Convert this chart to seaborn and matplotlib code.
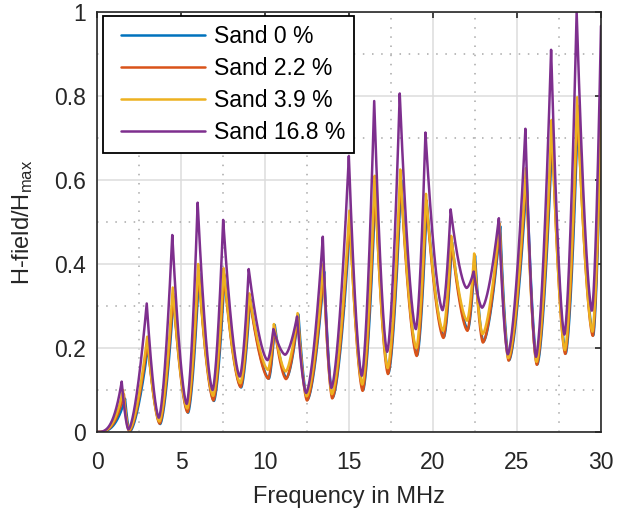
import numpy as np
import pandas as pd
import seaborn as sns
import matplotlib.pyplot as plt
from matplotlib.ticker import MultipleLocator, FuncFormatter
from matplotlib.legend_handler import HandlerLine2D

# ---------------- values ----------------
labels = ["Sand 0 %", "Sand 2.2 %", "Sand 3.9 %", "Sand 16.8 %"]
colors = ["#0072BD", "#D95319", "#EDB120", "#7E2F8E"]

# resonance peak positions (MHz)
peak_f_blue = [1.67, 3.04, 4.56, 6.07, 7.59, 9.11, 10.58, 11.99, 13.52, 15.07,
               16.58, 18.10, 19.63, 21.13, 22.50, 24.00, 25.58, 27.11, 28.63, 30.0]
peak_f_orange = [1.60, 3.01, 4.53, 6.04, 7.56, 9.08, 10.55, 11.96, 13.49, 15.04,
                 16.55, 18.07, 19.60, 21.10, 22.47, 23.97, 25.55, 27.08, 28.60, 30.0]
peak_f_yellow = [1.55, 2.99, 4.51, 6.02, 7.54, 9.06, 10.53, 11.94, 13.47, 15.02,
                 16.53, 18.05, 19.58, 21.08, 22.45, 23.95, 25.53, 27.06, 28.58, 30.0]
peak_f_purple = [1.47, 2.96, 4.48, 5.99, 7.51, 9.03, 10.50, 11.91, 13.44, 14.99,
                 16.50, 18.02, 19.55, 21.05, 22.42, 23.92, 25.50, 27.03, 28.55, 30.0]

# peak heights (H/Hmax)
peak_h_blue = [0.079, 0.205, 0.322, 0.378, 0.372, 0.317, 0.255, 0.280, 0.382, 0.505,
               0.585, 0.600, 0.547, 0.452, 0.420, 0.490, 0.605, 0.716, 0.768, 0.740]
peak_h_orange = [0.090, 0.215, 0.330, 0.385, 0.377, 0.320, 0.252, 0.279, 0.386, 0.512,
                 0.592, 0.607, 0.552, 0.456, 0.422, 0.492, 0.612, 0.724, 0.777, 0.748]
peak_h_yellow = [0.100, 0.227, 0.344, 0.400, 0.390, 0.330, 0.257, 0.283, 0.400, 0.527,
                 0.610, 0.625, 0.567, 0.467, 0.425, 0.497, 0.628, 0.743, 0.797, 0.767]
peak_h_purple = [0.120, 0.306, 0.469, 0.546, 0.505, 0.388, 0.245, 0.275, 0.465, 0.657,
                 0.788, 0.806, 0.713, 0.530, 0.382, 0.509, 0.722, 0.910, 1.000, 0.967]

# minima between the peaks (first one is the start at 0 MHz)
trough_f = [0.0, 1.87, 3.68, 5.34, 6.88, 8.50, 10.15, 11.20, 12.45, 13.95,
            15.76, 17.27, 18.98, 20.57, 22.00, 22.92, 24.45, 26.13, 27.82, 29.46]
trough_shift = [0.08, 0.05, 0.03, 0.0]   # blue, orange, yellow, purple
trough_h_blue = [0.0, 0.001, 0.019, 0.046, 0.074, 0.106, 0.127, 0.128, 0.077, 0.082,
                 0.100, 0.140, 0.183, 0.226, 0.244, 0.215, 0.171, 0.161, 0.187, 0.230]
trough_h_orange = [0.0, 0.002, 0.020, 0.047, 0.075, 0.107, 0.127, 0.126, 0.075, 0.080,
                   0.098, 0.138, 0.181, 0.224, 0.241, 0.213, 0.170, 0.160, 0.186, 0.229]
trough_h_yellow = [0.0, 0.004, 0.025, 0.056, 0.086, 0.116, 0.148, 0.144, 0.085, 0.090,
                   0.113, 0.152, 0.200, 0.241, 0.265, 0.233, 0.176, 0.167, 0.195, 0.239]
trough_h_purple = [0.0, 0.006, 0.034, 0.067, 0.100, 0.132, 0.171, 0.184, 0.093, 0.105,
                   0.134, 0.191, 0.245, 0.290, 0.343, 0.296, 0.185, 0.179, 0.232, 0.289]

peak_f = [peak_f_blue, peak_f_orange, peak_f_yellow, peak_f_purple]
peak_h = [peak_h_blue, peak_h_orange, peak_h_yellow, peak_h_purple]
trough_h = [trough_h_blue, trough_h_orange, trough_h_yellow, trough_h_purple]


def resonance_curve(freq, pf, ph, tf, th, n=1.6, n_first=3.0):
    # key points alternate trough, peak, trough, peak ...
    kf = np.ravel(np.column_stack([tf, pf]))
    kh = np.ravel(np.column_stack([th, ph]))
    idx = np.clip(np.searchsorted(kf, freq, side="right") - 1, 0, len(kf) - 2)
    f0, f1 = kf[idx], kf[idx + 1]
    h0, h1 = kh[idx], kh[idx + 1]
    rising = (idx % 2) == 0
    # u = normalised distance from the peak
    u = np.where(rising, (f1 - freq) / (f1 - f0), (freq - f0) / (f1 - f0))
    u = np.clip(u, 0, 1)
    low = np.where(rising, h0, h1)
    high = np.where(rising, h1, h0)
    expo = np.where(idx == 0, n_first, n)
    return low + (high - low) * (1 - u) ** expo


freq = np.linspace(0, 30, 6001)
frames = []
for lab, pf, ph, th, sh in zip(labels, peak_f, peak_h, trough_h, trough_shift):
    tf = np.array(trough_f) + np.r_[0, np.full(len(trough_f) - 1, sh)]
    frames.append(pd.DataFrame({"freq": freq,
                                "h": resonance_curve(freq, np.array(pf), np.array(ph), tf, np.array(th)),
                                "series": lab}))
df = pd.concat(frames, ignore_index=True)


class PadHandler(HandlerLine2D):
    # legend sample starts a bit further in from the frame (MATLAB look)
    def get_xdata(self, legend, xdescent, ydescent, width, height, fontsize):
        xdata, xm = super().get_xdata(legend, xdescent, ydescent, width, height, fontsize)
        xdata = np.asarray(xdata, float).copy()
        xdata[0] += 0.42 * fontsize
        return xdata, xm


# ---------------- plotting ----------------
sns.set_theme(style="white")
plt.rcParams["font.family"] = ["Liberation Sans", "DejaVu Sans"]
plt.rcParams["mathtext.default"] = "regular"
dark = "#262626"

fig = plt.figure(figsize=(6.17, 5.15), dpi=100)
ax = fig.add_axes([97 / 617, 1 - 432 / 515, 504 / 617, 420 / 515])

sns.lineplot(data=df, x="freq", y="h", hue="series", hue_order=labels,
             palette=colors, linewidth=1.8, estimator=None, sort=False,
             legend=False, ax=ax)

ax.set_xlim(0, 30)
ax.set_ylim(0, 1)
ax.xaxis.set_major_locator(MultipleLocator(5))
ax.xaxis.set_minor_locator(MultipleLocator(2.5))
ax.yaxis.set_major_locator(MultipleLocator(0.2))
ax.yaxis.set_minor_locator(MultipleLocator(0.1))
ax.yaxis.set_major_formatter(FuncFormatter(lambda v, p: "%g" % round(v, 2)))

ax.grid(True, which="major", color="#dcdcdc", linewidth=1.1, linestyle="-")
ax.grid(True, which="minor", color="#a8a8a8", linewidth=1.1, linestyle=(0, (1, 5)))
ax.set_axisbelow(True)

for s in ax.spines.values():
    s.set_visible(True)
    s.set_color(dark)
    s.set_linewidth(1.2)
ax.tick_params(which="major", direction="in", length=4, width=1.2, color=dark,
               top=True, right=True, labelsize=16.5, labelcolor=dark)
ax.tick_params(which="minor", length=0)
ax.tick_params(axis="x", pad=14)
ax.tick_params(axis="y", pad=8)

ax.set_xlabel("Frequency in MHz", fontsize=17, color=dark, labelpad=8)
ax.set_ylabel("H-field/H$_{max}$", fontsize=17, color=dark, labelpad=14)

handles = ax.get_lines()[:4]
leg = ax.legend(handles, labels, loc="upper left", bbox_to_anchor=(0.012, 0.99),
                borderaxespad=0, fontsize=16.5, handlelength=4.05, handletextpad=0.4,
                labelspacing=0.4, borderpad=0.38, fancybox=False, framealpha=1,
                edgecolor="black", handler_map={plt.Line2D: PadHandler()})
leg.get_frame().set_linewidth(1.3)
for t in leg.get_texts():
    t.set_color("black")

fig.savefig("out.png", dpi=100)
